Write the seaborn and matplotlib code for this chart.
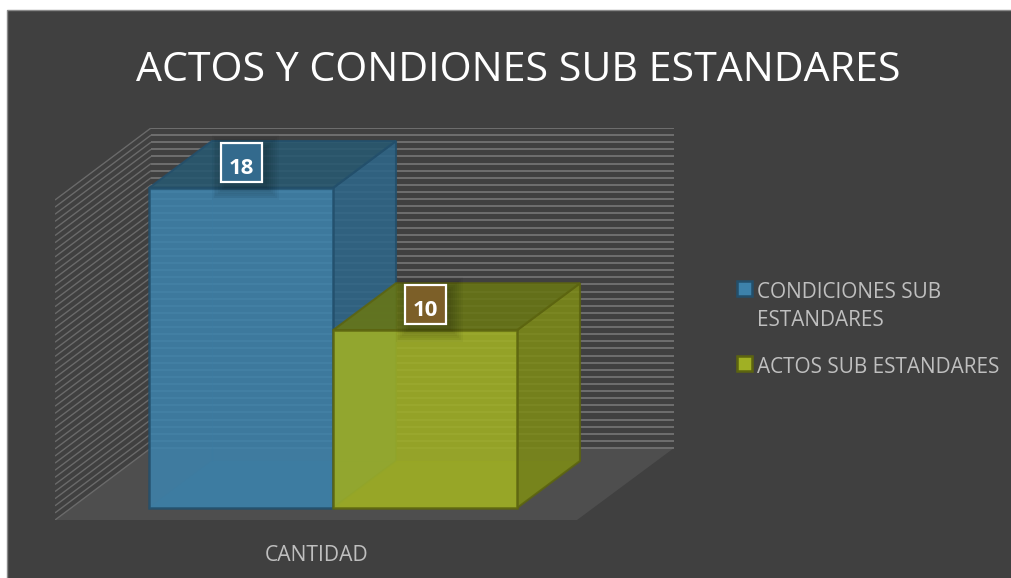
import textwrap
import numpy as np
import pandas as pd
import matplotlib
matplotlib.use("Agg")
import matplotlib.pyplot as plt
from matplotlib.patches import Polygon, Rectangle
from matplotlib.collections import LineCollection
import seaborn as sns

# ---- data ----
title = "ACTOS Y CONDIONES SUB ESTANDARES"
category = ["CANTIDAD"]
series_names = ["CONDICIONES SUB ESTANDARES", "ACTOS SUB ESTANDARES"]
series_values = [18, 10]
grid_step = 0.4
axis_max = 18

# ---- style ----
BG = "#404040"
TXT = "#bfbfbf"
front_colors = ["#3d82ab", "#a0b024"]
top_colors = ["#275870", "#687614"]
side_colors = ["#2e6688", "#7c8a18"]
edge_colors = ["#234f6b", "#5c6410"]
box_colors = ["#336a8d", "#7c5f28"]
ALPHA = 0.88

W, H = 1012, 578
sns.set_theme(style="white")
plt.rcParams["font.family"] = ["Open Sans", "DejaVu Sans"]

fig = plt.figure(figsize=(W / 100, H / 100), dpi=100, facecolor="white")
fig.add_artist(Rectangle((7 / W, -0.05), 1.05, (H - 10) / H + 0.05, transform=fig.transFigure,
                         facecolor=BG, edgecolor="#8a8a8a", linewidth=1.0, zorder=-5))

# plot box in pixels
L, R, T, B = 55, 674, 128, 520
ax = fig.add_axes([L / W, 1 - B / H, (R - L) / W, (B - T) / H])
ax.patch.set_visible(False)

df = pd.DataFrame({"cat": category * len(series_names), "serie": series_names, "valor": series_values})
sns.barplot(data=df, x="cat", y="valor", hue="serie", hue_order=series_names,
            palette=front_colors, saturation=1, ax=ax, legend=False, width=0.8, gap=0, errorbar=None)

# scales: pixels per data unit
PX_X = 184 / 0.4
PX_Y = 320 / axis_max
X0_PX, Y0_PX = 333, 508
ax.set_xlim((L - X0_PX) / PX_X, (R - X0_PX) / PX_X)
ax.set_ylim((Y0_PX - B) / PX_Y, (Y0_PX - T) / PX_Y)
dx = lambda p: p / PX_X
dy = lambda p: p / PX_Y

# floor
fy0 = dy(Y0_PX - 520)
fyb = dy(Y0_PX - 448)
xl, xr = ax.get_xlim()
front_r = dx(577 - X0_PX)
back_l = dx(151 - X0_PX)
ax.add_patch(Polygon([(xl, fy0), (front_r, fy0), (xr, fyb), (back_l, fyb)],
                     facecolor="#4e4e4e", edgecolor="none", zorder=0.3))

# back-wall and side-wall gridlines
levels = np.arange(0, axis_max + grid_step / 2, grid_step)
ax.hlines(levels + fyb, back_l, xr, colors="#727272", linewidth=1.3, zorder=0.5)
side = [[(xl, fy0 + v), (back_l, fyb + v)] for v in levels]
ax.add_collection(LineCollection(side, colors="#6a6a6a", linewidths=1.0, zorder=0.5), autolim=False)

# 3-D faces built from the bars seaborn drew
DX, DY = dx(63), dy(47)
for i, cont in enumerate(ax.containers):
    bar = cont[0]
    x0, w, h = bar.get_x(), bar.get_width(), bar.get_height()
    x1 = x0 + w
    base = 3 + i
    ec = edge_colors[i]
    ax.add_patch(Polygon([(x0, 0), (x1, 0), (x1 + DX, DY), (x0 + DX, DY)], facecolor=side_colors[i],
                         alpha=0.3, edgecolor="none", zorder=base))
    ax.plot([x0 + DX] * 2, [DY, h + DY], color=ec, lw=1.0, alpha=0.3, zorder=base + .05)
    ax.plot([x0, x0 + DX], [0, DY], color=ec, lw=1.0, alpha=0.2, zorder=base + .05)
    ax.plot([x0 + DX, x1 + DX], [DY, DY], color=ec, lw=1.0, alpha=0.2, zorder=base + .05)
    ax.add_patch(Polygon([(x1, 0), (x1 + DX, DY), (x1 + DX, h + DY), (x1, h)], facecolor=side_colors[i],
                         alpha=ALPHA, edgecolor=ec, linewidth=1.5, zorder=base + .1))
    ax.add_patch(Polygon([(x0, h), (x1, h), (x1 + DX, h + DY), (x0 + DX, h + DY)], facecolor=top_colors[i],
                         alpha=ALPHA, edgecolor=ec, linewidth=1.5, zorder=base + .2))
    bar.set_alpha(ALPHA)
    bar.set_edgecolor(ec)
    bar.set_linewidth(1.8)
    bar.set_zorder(base + .3)

    # data label with soft shadow
    cx = x0 + w / 2
    cy = h + dy(25.5)
    bw, bh = dx(41), dy(39)
    for grow in [13, 11, 9, 7, 5, 3, 1]:
        ax.add_patch(Rectangle((cx - bw / 2 + dx(4) - dx(grow), cy - bh / 2 - dy(5) - dy(grow)),
                               bw + dx(2 * grow), bh + dy(2 * grow), facecolor="black", alpha=0.035,
                               edgecolor="none", zorder=base + .35))
    ax.add_patch(Rectangle((cx - bw / 2, cy - bh / 2), bw, bh, facecolor=box_colors[i], edgecolor="white",
                           linewidth=1.6, zorder=base + .4))
    ax.text(cx + dx(0.5), cy - dy(3), f"{series_values[i]}", color="white", fontsize=16, fontweight="bold",
            ha="center", va="center_baseline", zorder=base + .5)

# axes dress
sns.despine(ax=ax, left=True, bottom=True)
ax.set_xlabel("")
ax.set_ylabel("")
ax.set_yticks([])
ax.set_xticks([dx(316.5 - X0_PX)])
ax.set_xticklabels(category, color=TXT, fontsize=15.2)
ax.tick_params(axis="x", length=0, pad=18)

# title
fig.text(518 / W, 1 - 81 / H, title, color="white", fontsize=29.6, ha="center", va="baseline")

# legend (swatch sits on the first line of a wrapped entry)
legend_tops = [281, 356]
for i, name in enumerate(series_names):
    y = legend_tops[i]
    fig.add_artist(Rectangle((737.5 / W, 1 - (y + 15) / H), 15 / W, 15 / H, transform=fig.transFigure,
                             facecolor=front_colors[i], edgecolor=edge_colors[i], linewidth=1.8))
    for k, line in enumerate(textwrap.wrap(name, 20)):
        fig.text(757 / W, 1 - (y + 17 + 28 * k) / H, line, color=TXT, fontsize=14.95,
                 ha="left", va="baseline")

fig.savefig("out.png", dpi=100, facecolor="white")
